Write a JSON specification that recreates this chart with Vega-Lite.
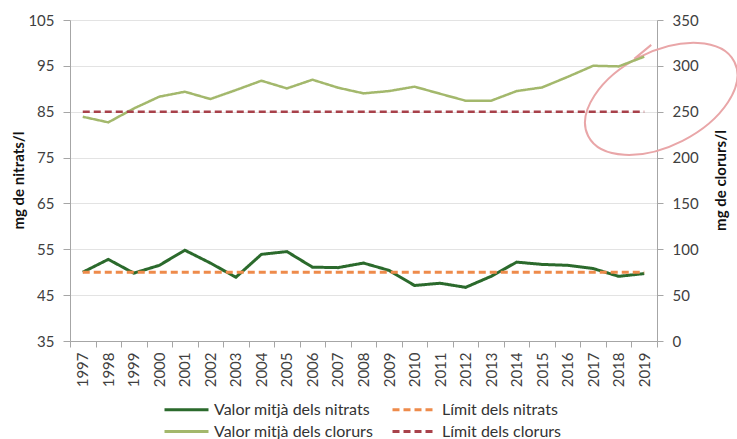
{
  "$schema": "https://vega.github.io/schema/vega-lite/v6.json",
  "width": 587,
  "height": 321,
  "autosize": {"type": "none"},
  "padding": {"left": 70, "top": 20, "right": 80, "bottom": 98},
  "background": "white",
  "config": {
    "font": "Lato",
    "view": {"stroke": null},
    "axis": {
      "labelFont": "Lato",
      "labelFontSize": 15,
      "labelColor": "#404040",
      "titleFont": "Lato",
      "titleFontSize": 15,
      "titleFontWeight": "bold",
      "titleColor": "#111111",
      "domainColor": "#A6A6A6",
      "tickColor": "#A6A6A6",
      "gridColor": "#E3E3E3"
    }
  },
  "datasets": {
    "d": [
      {"year": "1997", "series": "Valor mitjà dels nitrats", "axis": "L", "value": 50.0},
      {"year": "1998", "series": "Valor mitjà dels nitrats", "axis": "L", "value": 52.8},
      {"year": "1999", "series": "Valor mitjà dels nitrats", "axis": "L", "value": 49.8},
      {"year": "2000", "series": "Valor mitjà dels nitrats", "axis": "L", "value": 51.5},
      {"year": "2001", "series": "Valor mitjà dels nitrats", "axis": "L", "value": 54.8},
      {"year": "2002", "series": "Valor mitjà dels nitrats", "axis": "L", "value": 52.0},
      {"year": "2003", "series": "Valor mitjà dels nitrats", "axis": "L", "value": 48.9},
      {"year": "2004", "series": "Valor mitjà dels nitrats", "axis": "L", "value": 53.9},
      {"year": "2005", "series": "Valor mitjà dels nitrats", "axis": "L", "value": 54.5},
      {"year": "2006", "series": "Valor mitjà dels nitrats", "axis": "L", "value": 51.1},
      {"year": "2007", "series": "Valor mitjà dels nitrats", "axis": "L", "value": 51.0},
      {"year": "2008", "series": "Valor mitjà dels nitrats", "axis": "L", "value": 52.0},
      {"year": "2009", "series": "Valor mitjà dels nitrats", "axis": "L", "value": 50.4},
      {"year": "2010", "series": "Valor mitjà dels nitrats", "axis": "L", "value": 47.1},
      {"year": "2011", "series": "Valor mitjà dels nitrats", "axis": "L", "value": 47.6},
      {"year": "2012", "series": "Valor mitjà dels nitrats", "axis": "L", "value": 46.7},
      {"year": "2013", "series": "Valor mitjà dels nitrats", "axis": "L", "value": 49.1},
      {"year": "2014", "series": "Valor mitjà dels nitrats", "axis": "L", "value": 52.2},
      {"year": "2015", "series": "Valor mitjà dels nitrats", "axis": "L", "value": 51.7},
      {"year": "2016", "series": "Valor mitjà dels nitrats", "axis": "L", "value": 51.5},
      {"year": "2017", "series": "Valor mitjà dels nitrats", "axis": "L", "value": 50.8},
      {"year": "2018", "series": "Valor mitjà dels nitrats", "axis": "L", "value": 49.1},
      {"year": "2019", "series": "Valor mitjà dels nitrats", "axis": "L", "value": 49.7},
      {"year": "1997", "series": "Límit dels nitrats", "axis": "L", "value": 50},
      {"year": "2019", "series": "Límit dels nitrats", "axis": "L", "value": 50},
      {"year": "1997", "series": "Valor mitjà dels clorurs", "axis": "R", "value": 244.5},
      {"year": "1998", "series": "Valor mitjà dels clorurs", "axis": "R", "value": 238.4},
      {"year": "1999", "series": "Valor mitjà dels clorurs", "axis": "R", "value": 253.5},
      {"year": "2000", "series": "Valor mitjà dels clorurs", "axis": "R", "value": 266.4},
      {"year": "2001", "series": "Valor mitjà dels clorurs", "axis": "R", "value": 271.8},
      {"year": "2002", "series": "Valor mitjà dels clorurs", "axis": "R", "value": 263.8},
      {"year": "2003", "series": "Valor mitjà dels clorurs", "axis": "R", "value": 273.6},
      {"year": "2004", "series": "Valor mitjà dels clorurs", "axis": "R", "value": 283.8},
      {"year": "2005", "series": "Valor mitjà dels clorurs", "axis": "R", "value": 275.4},
      {"year": "2006", "series": "Valor mitjà dels clorurs", "axis": "R", "value": 284.9},
      {"year": "2007", "series": "Valor mitjà dels clorurs", "axis": "R", "value": 276.2},
      {"year": "2008", "series": "Valor mitjà dels clorurs", "axis": "R", "value": 270.0},
      {"year": "2009", "series": "Valor mitjà dels clorurs", "axis": "R", "value": 272.5},
      {"year": "2010", "series": "Valor mitjà dels clorurs", "axis": "R", "value": 277.3},
      {"year": "2011", "series": "Valor mitjà dels clorurs", "axis": "R", "value": 269.6},
      {"year": "2012", "series": "Valor mitjà dels clorurs", "axis": "R", "value": 262.0},
      {"year": "2013", "series": "Valor mitjà dels clorurs", "axis": "R", "value": 262.0},
      {"year": "2014", "series": "Valor mitjà dels clorurs", "axis": "R", "value": 272.5},
      {"year": "2015", "series": "Valor mitjà dels clorurs", "axis": "R", "value": 276.5},
      {"year": "2016", "series": "Valor mitjà dels clorurs", "axis": "R", "value": 288.0},
      {"year": "2017", "series": "Valor mitjà dels clorurs", "axis": "R", "value": 300.1},
      {"year": "2018", "series": "Valor mitjà dels clorurs", "axis": "R", "value": 299.4},
      {"year": "2019", "series": "Valor mitjà dels clorurs", "axis": "R", "value": 310.0},
      {"year": "1997", "series": "Límit dels clorurs", "axis": "R", "value": 250},
      {"year": "2019", "series": "Límit dels clorurs", "axis": "R", "value": 250}
    ],
    "ann": [{"year": "2019", "value": 87.8}]
  },
  "encoding": {
    "x": {
      "field": "year",
      "type": "ordinal",
      "bandPosition": 0.5,
      "scale": {
        "type": "band",
        "paddingInner": 0,
        "paddingOuter": 0,
        "domain": ["1997","1998","1999","2000","2001","2002","2003","2004","2005","2006","2007","2008","2009","2010","2011","2012","2013","2014","2015","2016","2017","2018","2019"]
      },
      "axis": {
        "title": null,
        "labelAngle": -90,
        "tickBand": "extent",
        "tickSize": 6,
        "labelPadding": 5,
        "grid": false
      }
    }
  },
  "layer": [
    {
      "encoding": {
        "y": {
          "field": "value",
          "type": "quantitative",
          "scale": {"domain": [35, 105], "nice": false, "zero": false},
          "axis": {
            "title": "mg de nitrats/l",
            "values": [35, 45, 55, 65, 75, 85, 95, 105],
            "grid": true,
            "tickSize": 7,
            "labelPadding": 9,
            "titleAngle": -90,
            "titleX": -52,
            "titleY": 160,
            "titleAlign": "center",
            "titleBaseline": "middle"
          }
        }
      },
      "layer": [
        {
          "data": {"name": "d"},
          "transform": [{"filter": "datum.axis == 'L'"}],
          "mark": {"type": "line", "strokeWidth": 3},
          "encoding": {
            "color": {
              "field": "series",
              "type": "nominal",
              "scale": {
                "domain": ["Valor mitjà dels nitrats", "Valor mitjà dels clorurs", "Límit dels nitrats", "Límit dels clorurs"],
                "range": ["#2B6A2C", "#A3B86C", "#EE8B4B", "#A8414A"]
              },
              "legend": {
                "orient": "none", "legendX": 93, "legendY": 378, "columns": 2, "title": null,
                "symbolType": "M-1,0H3.4", "symbolSize": 400, "symbolStrokeWidth": 3,
                "labelFont": "Lato", "labelFontSize": 16, "labelColor": "#333333", "labelLimit": 400,
                "rowPadding": 2, "columnPadding": 12, "labelOffset": 28, "padding": 0
              }
            },
            "strokeDash": {
              "field": "series",
              "type": "nominal",
              "scale": {
                "domain": ["Valor mitjà dels nitrats", "Valor mitjà dels clorurs", "Límit dels nitrats", "Límit dels clorurs"],
                "range": [[1, 0], [1, 0], [7, 4], [7, 4]]
              },
              "legend": {
                "orient": "none", "legendX": 93, "legendY": 378, "columns": 2, "title": null,
                "symbolType": "M-1,0H3.4", "symbolSize": 400, "symbolStrokeWidth": 3,
                "labelFont": "Lato", "labelFontSize": 16, "labelColor": "#333333", "labelLimit": 400,
                "rowPadding": 2, "columnPadding": 12, "labelOffset": 28, "padding": 0
              }
            }
          }
        },
        {
          "data": {"name": "ann"},
          "mark": {
            "type": "point",
            "shape": "M0.901,-0.372 A0.82,0.47,-27,1,1,-0.561,0.372 A0.82,0.47,-27,1,1,0.901,-0.372 Z M0.07,-0.54 L-0.10,-0.40",
            "size": 40000,
            "filled": false,
            "stroke": "#E9A6A8",
            "strokeWidth": 2,
            "opacity": 1
          },
          "encoding": {}
        }
      ]
    },
    {
      "data": {"name": "d"},
      "transform": [{"filter": "datum.axis == 'R'"}],
      "mark": {"type": "line", "strokeWidth": 2.5},
      "encoding": {
        "y": {
          "field": "value",
          "type": "quantitative",
          "scale": {"domain": [0, 350], "nice": false},
          "axis": {
            "orient": "right",
            "title": "mg de clorurs/l",
            "values": [0, 50, 100, 150, 200, 250, 300, 350],
            "grid": false,
            "tickSize": 6,
            "labelPadding": 9,
            "titleAngle": -90,
            "titleX": 63,
            "titleY": 160,
            "titleAlign": "center",
            "titleBaseline": "middle"
          }
        },
        "color": {
          "field": "series",
          "type": "nominal",
          "scale": {
            "domain": ["Valor mitjà dels nitrats", "Valor mitjà dels clorurs", "Límit dels nitrats", "Límit dels clorurs"],
            "range": ["#2B6A2C", "#A3B86C", "#EE8B4B", "#A8414A"]
          },
          "legend": {
            "orient": "none", "legendX": 93, "legendY": 378, "columns": 2, "title": null,
            "symbolType": "M-1,0H3.4", "symbolSize": 400, "symbolStrokeWidth": 3,
            "labelFont": "Lato", "labelFontSize": 16, "labelColor": "#333333", "labelLimit": 400,
            "rowPadding": 2, "columnPadding": 12, "labelOffset": 28, "padding": 0
          }
        },
        "strokeDash": {
          "field": "series",
          "type": "nominal",
          "scale": {
            "domain": ["Valor mitjà dels nitrats", "Valor mitjà dels clorurs", "Límit dels nitrats", "Límit dels clorurs"],
            "range": [[1, 0], [1, 0], [7, 4], [7, 4]]
          },
          "legend": {
            "orient": "none", "legendX": 93, "legendY": 378, "columns": 2, "title": null,
            "symbolType": "M-1,0H3.4", "symbolSize": 400, "symbolStrokeWidth": 3,
            "labelFont": "Lato", "labelFontSize": 16, "labelColor": "#333333", "labelLimit": 400,
            "rowPadding": 2, "columnPadding": 12, "labelOffset": 28, "padding": 0
          }
        }
      }
    }
  ],
  "resolve": {"scale": {"y": "independent"}}
}
